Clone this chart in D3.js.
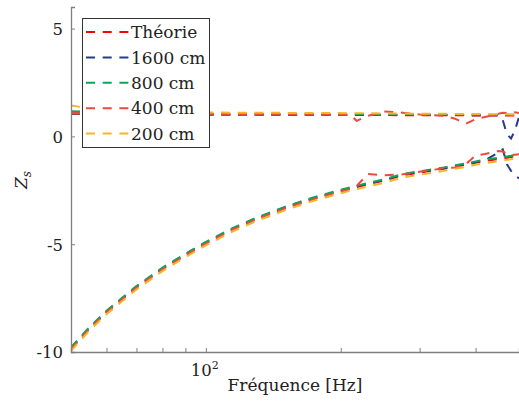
<!DOCTYPE html>
<html><head><meta charset="utf-8">
<script src="https://cdn.jsdelivr.net/npm/d3@7"></script>
<style>
html,body{margin:0;padding:0;background:#fff;}
svg{display:block;}
</style></head>
<body>
<svg id="c" width="519" height="410"></svg>
<script>
// frequency grid (Hz)
const freq = [50,55,60,65,70,80,90,100,115,130,150,170,195,210,217,230,250,275,300,340,360,380,400,420,450,460,470,480,490,500];

// series labels and colours
const seriesNames = ["Théorie","1600 cm","800 cm","400 cm","200 cm"];
const seriesColors = ["#ff0000","#263c8a","#0fa45a","#ec4a3c","#f5b52a"];

// upper branch (real part)
const theoRe  = [1.05,1.04,1.03,1.02,1.02,1.01,1.0,1.0,1.0,1.0,1.0,1.0,0.99,0.99,0.99,0.99,0.99,0.98,0.98,0.98,0.98,0.98,0.97,0.97,0.97,0.97,0.97,0.97,0.97,0.97];
const m1600Re = [1.06,1.05,1.04,1.03,1.03,1.02,1.01,1.01,1.01,1.01,1.0,1.0,1.0,1.0,1.0,1.0,1.0,0.99,0.99,0.99,0.99,0.99,0.98,0.98,0.98,0.75,0.1,-0.1,0.3,0.9];
const m800Re  = [1.17,1.13,1.1,1.08,1.07,1.06,1.06,1.05,1.05,1.04,1.04,1.04,1.03,1.03,1.03,1.02,1.02,1.02,1.01,1.01,1.01,1.0,1.0,1.0,1.0,1.0,1.0,1.0,1.0,1.0];
const m400Re  = [1.08,1.06,1.05,1.04,1.04,1.03,1.02,1.02,1.02,1.01,1.01,1.01,1.0,1.0,0.72,0.95,1.15,1.1,1.02,0.95,0.82,0.58,0.8,0.9,1.05,1.1,1.08,1.05,1.12,1.08];
const m200Re  = [1.43,1.3,1.22,1.18,1.15,1.13,1.12,1.11,1.1,1.1,1.09,1.08,1.08,1.07,1.07,1.07,1.06,1.06,1.05,1.05,1.04,1.04,1.04,1.03,1.03,1.03,1.03,1.02,1.02,1.02];

// lower branch (imaginary part)
const theoIm  = [-9.85,-8.9,-8.15,-7.55,-7.0,-6.15,-5.5,-4.95,-4.3,-3.82,-3.33,-2.95,-2.6,-2.42,-2.35,-2.22,-2.05,-1.8,-1.68,-1.5,-1.4,-1.32,-1.22,-1.14,-1.05,-1.02,-0.99,-0.96,-0.92,-0.88];
const m1600Im = [-9.82,-8.87,-8.12,-7.52,-6.97,-6.12,-5.47,-4.92,-4.27,-3.79,-3.3,-2.92,-2.57,-2.39,-2.32,-2.19,-2.02,-1.77,-1.65,-1.47,-1.37,-1.29,-1.19,-1.11,-0.75,-0.6,-1.3,-1.6,-1.8,-1.95];
const m800Im  = [-9.78,-8.84,-8.09,-7.49,-6.94,-6.09,-5.44,-4.89,-4.24,-3.76,-3.27,-2.89,-2.54,-2.36,-2.29,-2.16,-1.99,-1.74,-1.62,-1.44,-1.34,-1.26,-1.16,-1.08,-0.99,-0.96,-0.93,-0.9,-0.86,-0.82];
const m400Im  = [-9.87,-8.92,-8.17,-7.57,-7.02,-6.17,-5.52,-4.97,-4.32,-3.84,-3.35,-2.97,-2.62,-2.44,-2.3,-1.75,-1.8,-1.76,-1.64,-1.48,-1.44,-1.3,-0.88,-0.82,-0.68,-0.7,-0.8,-0.86,-0.85,-0.83];
const m200Im  = [-9.95,-9.0,-8.25,-7.65,-7.1,-6.25,-5.6,-5.05,-4.4,-3.92,-3.43,-3.05,-2.7,-2.52,-2.45,-2.32,-2.15,-1.9,-1.78,-1.6,-1.5,-1.42,-1.32,-1.24,-1.15,-1.12,-1.09,-1.06,-1.02,-0.98];

const yTicks = [5,0,-5,-10];
const yTickLabels = ["5","0","-5","-10"];
const xMajor = [100];
const xMinor = [60,70,80,90,200,300,400];

const reSeries = [theoRe,m1600Re,m800Re,m400Re,m200Re];
const imSeries = [theoIm,m1600Im,m800Im,m400Im,m200Im];

const FONT = "'DejaVu Serif', 'Liberation Serif', serif";
const mLeft = 71, mRight = 519, mTop = 7, mBottom = 352;
const svg = d3.select("#c");
const x = d3.scaleLog().domain([50,500]).range([mLeft,mRight]);
const y = d3.scaleLinear().domain([-10,6]).range([mBottom,mTop]);

const axisColor = "#7f7f7f";

// data lines
svg.append("defs").append("clipPath").attr("id","clip")
  .append("rect").attr("x",mLeft).attr("y",mTop).attr("width",mRight-mLeft+2).attr("height",mBottom-mTop);
const g = svg.append("g").attr("clip-path","url(#clip)");
const line = d3.line().x((d,i)=>x(freq[i])).y(d=>y(d));
seriesNames.forEach((name,k)=>{
  [reSeries[k], imSeries[k]].forEach(arr=>{
    g.append("path").attr("d",line(arr)).attr("fill","none")
      .attr("stroke",seriesColors[k]).attr("stroke-width",2)
      .attr("stroke-dasharray","9,7.7");
  });
});

// axes
const yAxis = d3.axisLeft(y).tickValues(yTicks).tickSize(-4).tickPadding(8)
  .tickFormat((d,i)=>yTickLabels[i]);
const ya = svg.append("g").attr("transform",`translate(${mLeft},0)`).call(yAxis);
ya.select(".domain").attr("stroke",axisColor).attr("stroke-width",1.3);
ya.selectAll(".tick line").attr("stroke",axisColor).attr("stroke-width",1);
ya.selectAll(".tick text").style("font-family",FONT).style("font-size","16.5px").attr("fill","#222").attr("dy","0.36em");

const xAxis = d3.axisBottom(x).tickValues(xMajor.concat(xMinor)).tickSize(-4).tickFormat(()=> "");
const xa = svg.append("g").attr("transform",`translate(0,${mBottom})`).call(xAxis);
xa.select(".domain").attr("stroke",axisColor).attr("stroke-width",1.3);
xa.selectAll(".tick line").attr("stroke",axisColor).attr("stroke-width",1);

// major tick label 10^2
xMajor.forEach(v=>{
  const t = svg.append("text").attr("x",x(v)-1).attr("y",mBottom+24)
    .attr("text-anchor","middle").style("font-family",FONT).style("font-size","16.5px").attr("fill","#222");
  t.append("tspan").text("10");
  t.append("tspan").style("font-size","11px").attr("dy",-7).text("2");
});

// axis labels
svg.append("text").attr("x",295).attr("y",391).attr("text-anchor","middle")
  .style("font-family",FONT).style("font-size","17px").attr("fill","#222").text("Fréquence [Hz]");
const yl = svg.append("text").attr("transform",`translate(27,180) rotate(-90)`)
  .attr("text-anchor","middle").style("font-family",FONT).style("font-size","17px")
  .style("font-style","italic").attr("fill","#222");
yl.append("tspan").text("Z");
yl.append("tspan").style("font-size","12px").attr("dy",4).text("s");

// legend
const lg = svg.append("g");
lg.append("rect").attr("x",82.5).attr("y",18.5).attr("width",127).attr("height",129)
  .attr("fill","#fff").attr("stroke","#333").attr("stroke-width",1);
seriesNames.forEach((name,k)=>{
  const yy = 32 + k*25.4;
  lg.append("line").attr("x1",86).attr("x2",129).attr("y1",yy).attr("y2",yy)
    .attr("stroke",seriesColors[k]).attr("stroke-width",2).attr("stroke-dasharray","9,7.7");
  lg.append("text").attr("x",131).attr("y",yy).attr("dy","0.36em")
    .style("font-family",FONT).style("font-size","17px").attr("fill","#222").text(name);
});
</script>
</body></html>
